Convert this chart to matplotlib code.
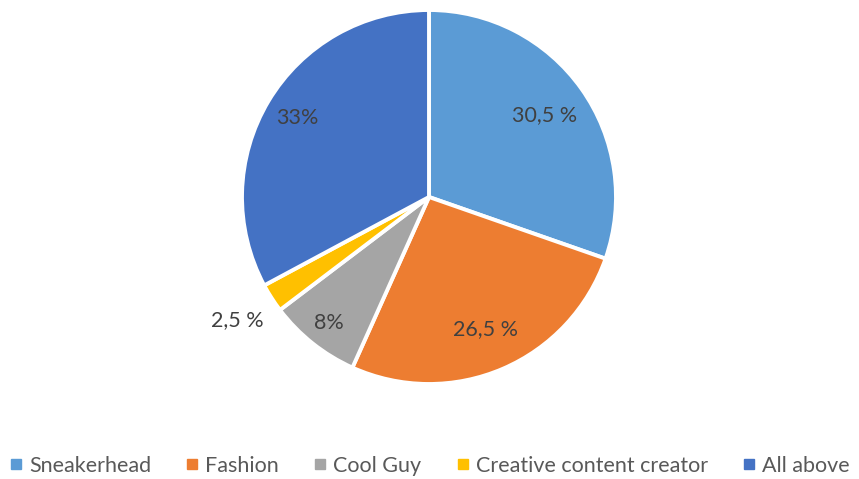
import numpy as np
import matplotlib
matplotlib.use("Agg")
import matplotlib.pyplot as plt
from matplotlib.lines import Line2D

categories = ["Sneakerhead", "Fashion", "Cool Guy", "Creative content creator", "All above"]
values = [30.5, 26.5, 8, 2.5, 33]
labels = ["30,5 %", "26,5 %", "8%", "2,5 %", "33%"]
colors = ["#5B9BD5", "#ED7D31", "#A5A5A5", "#FFC000", "#4472C4"]

# radial placement of each data label (fraction of radius)
label_radius = [0.76, 0.77, 0.86, 1.22, 0.82]

plt.rcParams["font.family"] = ["Lato", "DejaVu Sans"]

W, H = 859, 479
fig = plt.figure(figsize=(W / 100, H / 100), dpi=100)
cx, cy, R = 429, 282, 187
ax = fig.add_axes([(cx - R) / W, (cy - R) / H, 2 * R / W, 2 * R / H])

wedges, _ = ax.pie(values, colors=colors, startangle=90, counterclock=False,
                   radius=1.0,
                   wedgeprops=dict(edgecolor="white", linewidth=2.8))
ax.set_xlim(-1, 1)
ax.set_ylim(-1, 1)
ax.set_aspect("equal")
ax.axis("off")

for w, lab, r in zip(wedges, labels, label_radius):
    ang = np.deg2rad((w.theta1 + w.theta2) / 2)
    ax.text(r * np.cos(ang), r * np.sin(ang), lab, ha="center", va="center",
            fontsize=15.5, color="#404040", clip_on=False)

handles = [Line2D([0], [0], marker="s", linestyle="none", markersize=7,
                  markerfacecolor=c, markeredgecolor=c) for c in colors]
fig.legend(handles, categories, loc="center", bbox_to_anchor=(0.5, 1 - 466 / H),
           ncol=5, frameon=False, fontsize=15.5, labelcolor="#595959",
           handlelength=0.6, handletextpad=0.3, columnspacing=1.62)

fig.savefig("out.png", dpi=100, facecolor="white")
